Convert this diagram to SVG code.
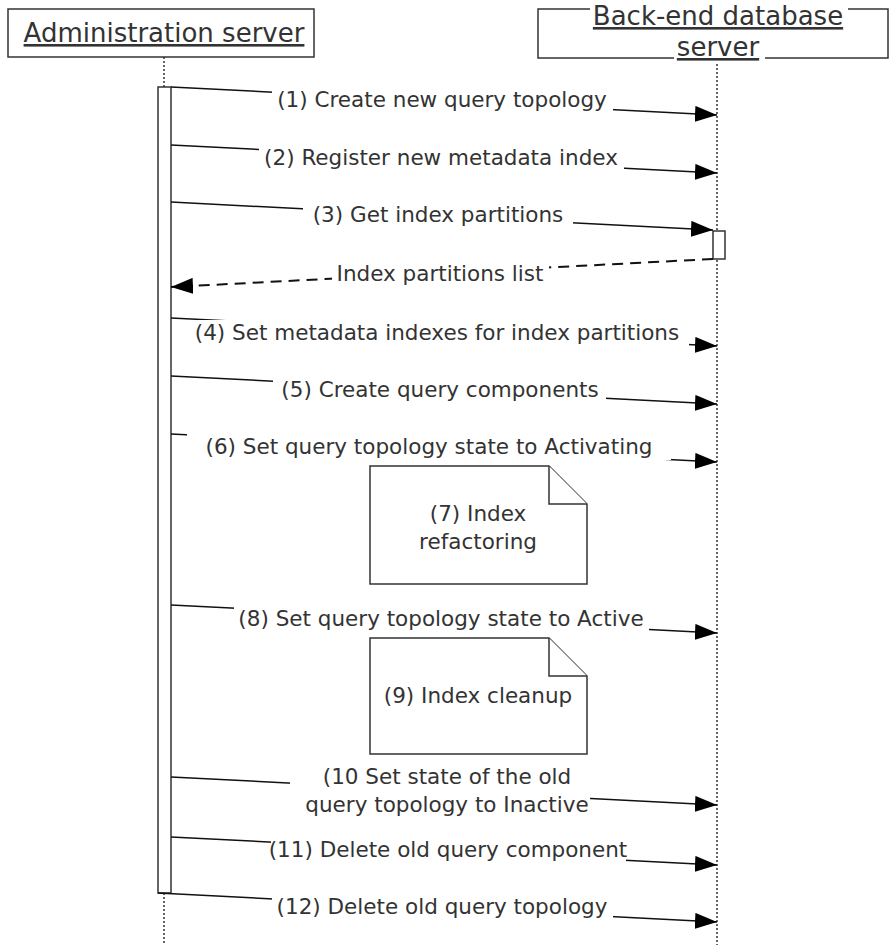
<svg xmlns="http://www.w3.org/2000/svg" width="893" height="945" viewBox="0 0 893 945">
  <defs>
    <style>
      .box { fill: #ffffff; stroke: #333333; stroke-width: 1.5; }
      .head { font-family: "DejaVu Sans", Verdana, sans-serif; font-size: 26px; fill: #333333; text-anchor: middle; text-decoration: underline; }
      .lbl { font-family: "DejaVu Sans", Verdana, sans-serif; font-size: 21.5px; fill: #333333; text-anchor: middle; }
      .life { stroke: #333333; stroke-width: 1.5; stroke-dasharray: 2 2; fill: none; }
      .msg { stroke: #111111; stroke-width: 1.5; fill: none; marker-end: url(#arrow); }
      .ret { stroke: #111111; stroke-width: 2; stroke-dasharray: 11 7; fill: none; marker-end: url(#arrow); }
      .bg { fill: #ffffff; stroke: none; }
      .note { fill: #ffffff; stroke: #333333; stroke-width: 1.5; stroke-linejoin: miter; }
    </style>
    <marker id="arrow" markerUnits="userSpaceOnUse" markerWidth="22" markerHeight="16" refX="22" refY="8" orient="auto">
      <path d="M0,0 L22,8 L0,16 z" fill="#000000"/>
    </marker>
  </defs>

  <!-- participant: administration server -->
  <g id="admin">
    <rect class="box" x="8" y="9" width="306" height="48"/>
    <text class="head" x="164" y="42">Administration server</text>
    <line class="life" x1="164" y1="57" x2="164" y2="87"/>
    <line class="life" x1="164" y1="893" x2="164" y2="945"/>
    <rect class="box" x="158" y="87" width="13" height="806"/>
  </g>

  <!-- participant: back-end database server -->
  <g id="backend">
    <rect class="box" x="538" y="9" width="350" height="49"/>
    <rect class="bg" x="590" y="4" width="258" height="26"/>
    <rect class="bg" x="674" y="36" width="91" height="28"/>
    <text class="head" x="718" y="25">Back-end database</text>
    <text class="head" x="718" y="56">server</text>
    <line class="life" x1="717" y1="64" x2="717" y2="945"/>
    <rect class="box" x="713" y="231" width="12" height="28"/>
  </g>

  <!-- messages -->
  <g id="connectors">
    <line class="msg" x1="171" y1="87" x2="717" y2="115"/>
    <line class="msg" x1="171" y1="145" x2="717" y2="173"/>
    <line class="msg" x1="171" y1="202" x2="713" y2="230"/>
    <line class="ret" x1="713" y1="259" x2="171" y2="287"/>
    <line class="msg" x1="171" y1="318" x2="717" y2="346"/>
    <line class="msg" x1="171" y1="376" x2="717" y2="404"/>
    <line class="msg" x1="171" y1="434" x2="717" y2="462"/>
    <line class="msg" x1="171" y1="605" x2="717" y2="633"/>
    <line class="msg" x1="171" y1="777" x2="717" y2="805"/>
    <line class="msg" x1="171" y1="837" x2="717" y2="865"/>
    <line class="msg" x1="158" y1="893" x2="717" y2="922"/>
  </g>

  <!-- message labels -->
  <g id="labels">
    <g id="m1"><rect class="bg" x="272" y="88" width="341" height="26"/><text class="lbl" x="442" y="107">(1) Create new query topology</text></g>
    <g id="m2"><rect class="bg" x="259" y="146" width="365" height="26"/><text class="lbl" x="441" y="165">(2) Register new metadata index</text></g>
    <g id="m3"><rect class="bg" x="303" y="203" width="270" height="26"/><text class="lbl" x="438" y="222">(3) Get index partitions</text></g>
    <g id="r3"><rect class="bg" x="332" y="262" width="217" height="26"/><text class="lbl" x="440" y="281">Index partitions list</text></g>
    <g id="m4"><rect class="bg" x="186" y="320" width="503" height="26"/><text class="lbl" x="437" y="340">(4) Set metadata indexes for index partitions</text></g>
    <g id="m5"><rect class="bg" x="273" y="377" width="333" height="26"/><text class="lbl" x="440" y="397">(5) Create query components</text></g>
    <g id="m6"><rect class="bg" x="187" y="434" width="484" height="26"/><text class="lbl" x="429" y="454">(6) Set query topology state to Activating</text></g>
    <g id="m8"><rect class="bg" x="234" y="606" width="415" height="26"/><text class="lbl" x="441" y="626">(8) Set query topology state to Active</text></g>
    <g id="m10"><rect class="bg" x="290" y="764" width="300" height="54"/><text class="lbl" x="447" y="784">(10 Set state of the old</text><text class="lbl" x="447" y="812">query topology to Inactive</text></g>
    <g id="m11"><rect class="bg" x="271" y="837" width="355" height="26"/><text class="lbl" x="448" y="857">(11) Delete old query component</text></g>
    <g id="m12"><rect class="bg" x="272" y="894" width="341" height="26"/><text class="lbl" x="442" y="914">(12) Delete old query topology</text></g>
  </g>

  <!-- notes: text is centred in the note body -->
  <g id="note7">
    <path class="note" d="M370,466 H549 L587,504 V584 H370 Z"/>
    <path class="note" d="M549,466 V504 H587" fill="none"/>
    <text class="lbl" x="478" y="521">(7) Index</text>
    <text class="lbl" x="478" y="549">refactoring</text>
  </g>
  <g id="note9">
    <path class="note" d="M370,638 H549 L587,676 V754 H370 Z"/>
    <path class="note" d="M549,638 V676 H587" fill="none"/>
    <text class="lbl" x="478" y="703">(9) Index cleanup</text>
  </g>
</svg>
